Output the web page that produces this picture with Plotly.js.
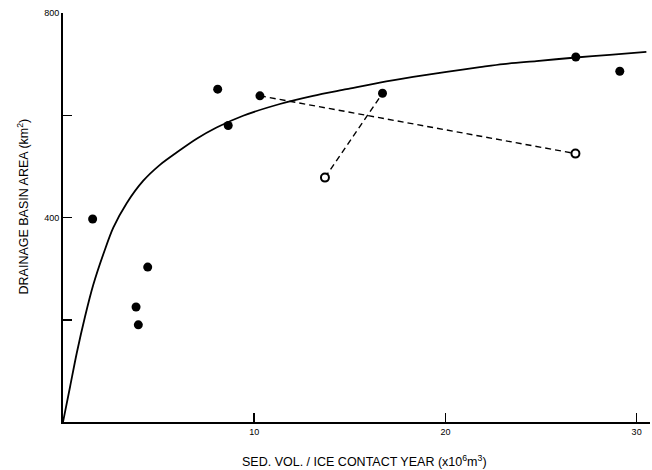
<!DOCTYPE html>
<html>
<head>
<meta charset="utf-8">
<script src="https://cdn.plot.ly/plotly-3.0.1.min.js"></script>
<style>html,body{margin:0;padding:0;background:#fff;}#chart{width:652px;height:470px;}</style>
</head>
<body>
<div id="chart"></div>
<script>
// Fitted curve
const curveX = [0, 0.37, 0.72, 1.15, 1.58, 2.20, 2.63, 3.33, 4.20, 5.07, 5.94, 6.99, 8.03, 9.42, 11.34, 13.08, 14.83, 16.57, 18.31, 20.06, 21.80, 23.02, 24.76, 26.82, 28.59, 30.51];
const curveY = [0, 69, 135, 206, 268, 338, 380, 428, 472, 503, 527, 554, 576, 599, 622, 638, 651, 664, 675, 685, 694, 700, 706, 713, 718, 724];

// Filled points
const filledX = [1.55, 3.82, 3.94, 4.43, 8.09, 8.64, 10.3, 16.71, 26.82, 29.12];
const filledY = [397, 225, 190, 303, 651, 580, 638, 643, 714, 686];

// Open points
const openX = [13.7, 26.8];
const openY = [478, 525];

// Dashed links (filled -> open)
const linkAX = [10.3, 26.8];
const linkAY = [638, 525];
const linkBX = [13.7, 16.71];
const linkBY = [478, 643];

const xTicks = [10, 20, 30];
const xTickText = ['10', '20', '30'];
const yTicks = [200, 400, 600, 800];
const yTickText = [' ', '400', ' ', '800'];

const xTitle = 'SED. VOL. / ICE CONTACT YEAR (x10<sup>6</sup>m<sup>3</sup>)';
const yTitle = 'DRAINAGE BASIN AREA (km<sup>2</sup>)';

const font = 'Liberation Sans, Arial, sans-serif';

const traces = [
  {x: curveX, y: curveY, mode: 'lines', line: {color: '#000', width: 1.8, shape: 'spline', smoothing: 0.8}, hoverinfo: 'skip'},
  {x: linkAX, y: linkAY, mode: 'lines', line: {color: '#000', width: 1.4, dash: '6px,4px'}, hoverinfo: 'skip'},
  {x: linkBX, y: linkBY, mode: 'lines', line: {color: '#000', width: 1.4, dash: '6px,4px'}, hoverinfo: 'skip'},
  {x: filledX, y: filledY, mode: 'markers', marker: {color: '#000', size: 9, symbol: 'circle'}},
  {x: openX, y: openY, mode: 'markers', marker: {color: '#fff', size: 8, symbol: 'circle', line: {color: '#000', width: 2}}}
];

const layout = {
  width: 652, height: 470,
  margin: {l: 63, r: 2, t: 13, b: 48},
  paper_bgcolor: '#fff', plot_bgcolor: '#fff',
  showlegend: false,
  font: {family: font, color: '#000', size: 9},
  xaxis: {
    range: [0, 30.7], showgrid: false, zeroline: false,
    showline: true, linecolor: '#000', linewidth: 2,
    ticks: 'inside', ticklen: 9, tickwidth: 1.5, tickcolor: '#000',
    tickvals: xTicks, ticktext: xTickText,
    tickfont: {family: font, size: 9, color: '#000'},
    automargin: false
  },
  yaxis: {
    range: [0, 800], showgrid: false, zeroline: false,
    showline: true, linecolor: '#000', linewidth: 2,
    ticks: 'inside', ticklen: 9, tickwidth: 1.5, tickcolor: '#000',
    tickvals: yTicks, ticktext: yTickText,
    tickfont: {family: font, size: 9, color: '#000'},
    automargin: false
  },
  annotations: [
    {text: xTitle, xref: 'paper', yref: 'paper', x: 0.514, y: -0.0954, xanchor: 'center', yanchor: 'middle', showarrow: false, font: {family: font, size: 12.5, color: '#000'}},
    {text: yTitle, xref: 'paper', yref: 'paper', x: -0.0688, y: 0.526, xanchor: 'center', yanchor: 'middle', textangle: -90, showarrow: false, font: {family: font, size: 12.5, color: '#000'}}
  ]
};

Plotly.newPlot('chart', traces, layout, {displayModeBar: false, staticPlot: true});
</script>
</body>
</html>
